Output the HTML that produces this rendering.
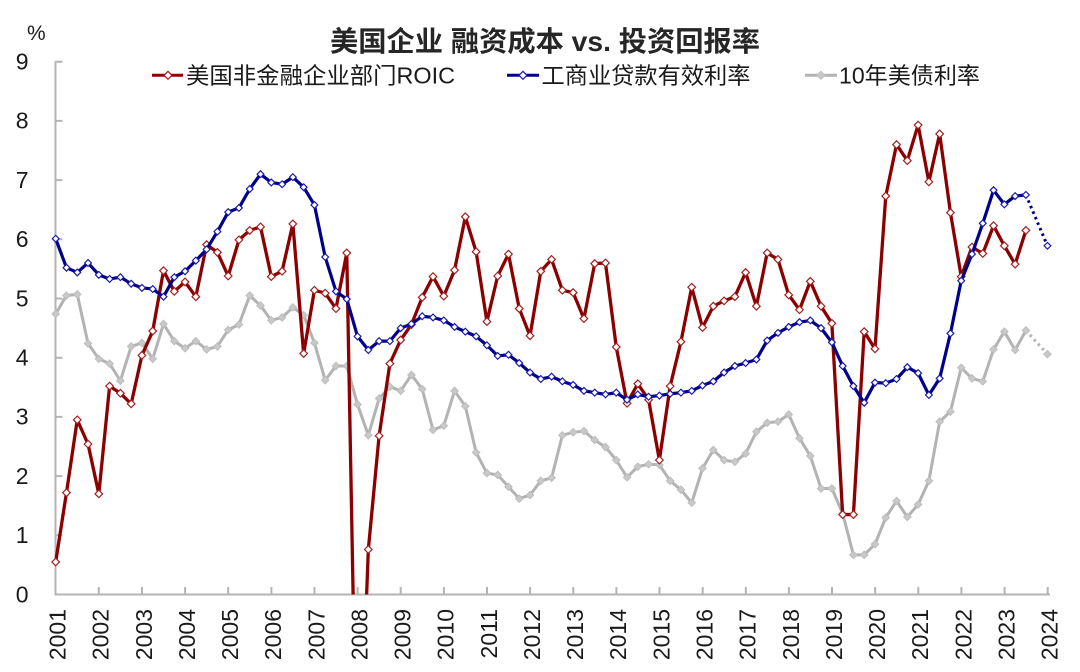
<!DOCTYPE html>
<html>
<head>
<meta charset="utf-8">
<style>
html,body{margin:0;padding:0;background:#fff;width:1080px;height:672px;overflow:hidden;}
svg{display:block;overflow:hidden;}
text{font-family:"Liberation Sans","Noto Sans CJK SC",sans-serif;}
</style>
</head>
<body>
<svg id="c" width="1080" height="672" viewBox="0 0 1080 672" xmlns="http://www.w3.org/2000/svg">
<rect x="0" y="0" width="1080" height="672" fill="#ffffff"/>
<defs>
<clipPath id="cp"><rect x="40" y="40" width="1030" height="554.5"/></clipPath>
</defs>

<!-- Title -->
<text x="330" y="51" font-size="28" font-weight="bold" fill="#262626" textLength="430" lengthAdjust="spacingAndGlyphs">美国企业 融资成本 vs. 投资回报率</text>

<!-- Legend -->
<line x1="152" y1="75.3" x2="183" y2="75.3" stroke="#8b0000" stroke-width="3"/>
<path d="M168,71.3 L172,75.3 L168,79.3 L164,75.3 Z" fill="#fff" stroke="#9b1c1c" stroke-width="1.2"/>
<text x="186" y="83.5" font-size="23" fill="#1a1a1a" textLength="269" lengthAdjust="spacingAndGlyphs">美国非金融企业部门ROIC</text>

<line x1="507" y1="75.3" x2="539" y2="75.3" stroke="#00008b" stroke-width="3"/>
<path d="M523,71.3 L527,75.3 L523,79.3 L519,75.3 Z" fill="#fff" stroke="#1c1ca0" stroke-width="1.2"/>
<text x="541.5" y="83.5" font-size="23" fill="#1a1a1a" textLength="209" lengthAdjust="spacingAndGlyphs">工商业贷款有效利率</text>

<line x1="805" y1="75.3" x2="837" y2="75.3" stroke="#b3b3b3" stroke-width="3"/>
<path d="M821,71.3 L825,75.3 L821,79.3 L817,75.3 Z" fill="#c8c8c8" stroke="#bdbdbd" stroke-width="1"/>
<text x="839" y="83.5" font-size="23" fill="#1a1a1a" textLength="141" lengthAdjust="spacingAndGlyphs">10年美债利率</text>

<!-- % label -->
<text x="27" y="40" font-size="21" fill="#1a1a1a">%</text>

<!-- Y axis labels -->
<g font-size="23" fill="#1a1a1a" text-anchor="end">
<text x="28.5" y="69.5">9</text>
<text x="28.5" y="128.7">8</text>
<text x="28.5" y="187.9">7</text>
<text x="28.5" y="247.1">6</text>
<text x="28.5" y="306.3">5</text>
<text x="28.5" y="365.5">4</text>
<text x="28.5" y="424.7">3</text>
<text x="28.5" y="483.9">2</text>
<text x="28.5" y="543.1">1</text>
<text x="28.5" y="602.3">0</text>
</g>

<!-- Axes -->
<g stroke="#b4b4b4" stroke-width="2" fill="none">
<line x1="55.5" y1="61" x2="55.5" y2="595.5"/>
<line x1="54.5" y1="594.5" x2="1050" y2="594.5"/>
<path d="M55.5,61.7 h7 M55.5,120.9 h7 M55.5,180.1 h7 M55.5,239.3 h7 M55.5,298.5 h7 M55.5,357.7 h7 M55.5,416.9 h7 M55.5,476.1 h7 M55.5,535.3 h7"/>
<path id="xticks" d=""/>
</g>

<!-- X axis labels -->
<g font-size="23" fill="#1a1a1a" text-anchor="end">
<text transform="translate(65.5,609) rotate(-90)">2001</text>
<text transform="translate(108.6,609) rotate(-90)">2002</text>
<text transform="translate(151.8,609) rotate(-90)">2003</text>
<text transform="translate(194.9,609) rotate(-90)">2004</text>
<text transform="translate(238.0,609) rotate(-90)">2005</text>
<text transform="translate(281.2,609) rotate(-90)">2006</text>
<text transform="translate(324.3,609) rotate(-90)">2007</text>
<text transform="translate(367.4,609) rotate(-90)">2008</text>
<text transform="translate(410.6,609) rotate(-90)">2009</text>
<text transform="translate(453.7,609) rotate(-90)">2010</text>
<text transform="translate(496.8,609) rotate(-90)">2011</text>
<text transform="translate(540.0,609) rotate(-90)">2012</text>
<text transform="translate(583.1,609) rotate(-90)">2013</text>
<text transform="translate(626.2,609) rotate(-90)">2014</text>
<text transform="translate(669.4,609) rotate(-90)">2015</text>
<text transform="translate(712.5,609) rotate(-90)">2016</text>
<text transform="translate(755.6,609) rotate(-90)">2017</text>
<text transform="translate(798.8,609) rotate(-90)">2018</text>
<text transform="translate(841.9,609) rotate(-90)">2019</text>
<text transform="translate(885.0,609) rotate(-90)">2020</text>
<text transform="translate(928.2,609) rotate(-90)">2021</text>
<text transform="translate(971.3,609) rotate(-90)">2022</text>
<text transform="translate(1014.4,609) rotate(-90)">2023</text>
<text transform="translate(1057.6,609) rotate(-90)">2024</text>
</g>

<g id="series" clip-path="url(#cp)"></g>
</svg>

<script>
(function(){
var NS="http://www.w3.org/2000/svg";
function X(i){return 55.7+10.78*i;}
function Y(v){return 594.5-59.2*v;}
var red=[0.55,1.72,2.95,2.54,1.70,3.52,3.40,3.22,4.04,4.45,5.47,5.12,5.28,5.03,5.91,5.78,5.38,5.99,6.15,6.21,5.37,5.46,6.26,4.07,5.14,5.09,4.83,5.77,null,0.76,2.68,3.90,4.30,4.56,5.02,5.37,5.04,5.48,6.38,5.79,4.61,5.38,5.75,4.83,4.37,5.46,5.66,5.14,5.10,4.66,5.59,5.60,4.18,3.23,3.56,3.29,2.27,3.52,4.27,5.19,4.51,4.87,4.96,5.03,5.44,4.87,5.77,5.66,5.06,4.81,5.29,4.87,4.58,1.35,1.35,4.44,4.15,6.73,7.60,7.33,7.93,6.97,7.78,6.45,5.37,5.87,5.76,6.23,5.89,5.58,6.15];
var blue=[6.01,5.52,5.44,5.60,5.40,5.33,5.36,5.25,5.18,5.16,5.03,5.36,5.46,5.64,5.83,6.13,6.46,6.53,6.85,7.10,6.96,6.93,7.05,6.88,6.58,5.70,5.12,4.99,4.36,4.13,4.28,4.28,4.50,4.57,4.70,4.68,4.63,4.52,4.44,4.36,4.21,4.03,4.05,3.91,3.75,3.64,3.68,3.60,3.54,3.44,3.41,3.38,3.41,3.29,3.38,3.34,3.36,3.39,3.41,3.44,3.53,3.60,3.75,3.86,3.91,3.97,4.29,4.42,4.52,4.60,4.63,4.50,4.26,3.86,3.52,3.24,3.58,3.57,3.64,3.84,3.74,3.37,3.65,4.41,5.30,5.75,6.27,6.83,6.59,6.73,6.75];
var gray=[4.74,5.05,5.07,4.24,3.98,3.90,3.61,4.19,4.25,3.98,4.57,4.28,4.16,4.28,4.14,4.19,4.47,4.56,5.05,4.88,4.63,4.68,4.85,4.72,4.25,3.62,3.86,3.86,3.21,2.69,3.31,3.51,3.44,3.71,3.47,2.78,2.85,3.44,3.18,2.40,2.05,2.02,1.82,1.62,1.68,1.92,1.97,2.69,2.74,2.76,2.61,2.49,2.27,1.98,2.16,2.20,2.19,1.92,1.77,1.55,2.13,2.44,2.27,2.24,2.38,2.75,2.90,2.92,3.04,2.64,2.34,1.79,1.79,1.37,0.67,0.67,0.85,1.30,1.58,1.31,1.52,1.92,2.92,3.09,3.83,3.65,3.60,4.14,4.44,4.13,4.46];
var g=document.getElementById("series");
function el(n,a){var e=document.createElementNS(NS,n);for(var k in a)e.setAttribute(k,a[k]);g.appendChild(e);return e;}
function polyPts(pts,color,w){
  el("polyline",{points:pts.map(function(p){return p[0].toFixed(2)+","+p[1].toFixed(2);}).join(" "),fill:"none",stroke:color,"stroke-width":w,"stroke-linejoin":"round"});
}
function poly(arr,color,w){
  polyPts(arr.map(function(v,i){return [X(i),Y(v)];}),color,w);
}
function dia(x,y,r,fill,stroke,sw){
  el("path",{d:"M"+x+","+(y-r)+" L"+(x+r)+","+y+" L"+x+","+(y+r)+" L"+(x-r)+","+y+" Z",fill:fill,stroke:stroke,"stroke-width":sw});
}
function markers(arr,r,fill,stroke,sw){
  arr.forEach(function(v,i){ if(v!==null) dia(X(i),Y(v),r,fill,stroke,sw);});
}
function dotted(v0,v1,color){
  el("line",{x1:X(90),y1:Y(v0),x2:X(92),y2:Y(v1),stroke:color,"stroke-width":3,"stroke-dasharray":"2.5 3.5"});
}
poly(gray,"#b3b3b3",3);
dotted(gray[90],4.06,"#b3b3b3");
markers(gray,3.7,"#c9c9c9","#bdbdbd",1);
dia(X(92),Y(4.06),3.7,"#c9c9c9","#bdbdbd",1);

// red split around the 2008 plunge (hidden value -4, clipped at axis)
var hid=-4.0;
var seg1=[];for(var i=0;i<=27;i++)seg1.push([X(i),Y(red[i])]);
var f1=red[27]/(red[27]-hid); seg1.push([X(27)+f1*10.78,595.5]);
var seg2=[]; var f2=(0-hid)/(red[29]-hid); seg2.push([X(28)+f2*10.78,595.5]);
for(var j=29;j<red.length;j++)seg2.push([X(j),Y(red[j])]);
polyPts(seg1,"#8b0000",3.3);
polyPts(seg2,"#8b0000",3.3);
markers(red,3.8,"#ffffff","#a32020",1.2);

poly(blue,"#00008b",3.2);
dotted(blue[90],5.89,"#00008b");
markers(blue,3.4,"#ffffff","#1c1ca8",1.2);
dia(X(92),Y(5.89),3.4,"#ffffff","#1c1ca8",1.2);
var d="";
for(var k=1;k<=23;k++){var x=(55.7+43.13*k).toFixed(1);d+="M"+x+",594.5 v-7.5 ";}
document.getElementById("xticks").setAttribute("d",d);
})();
</script>
</body>
</html>
